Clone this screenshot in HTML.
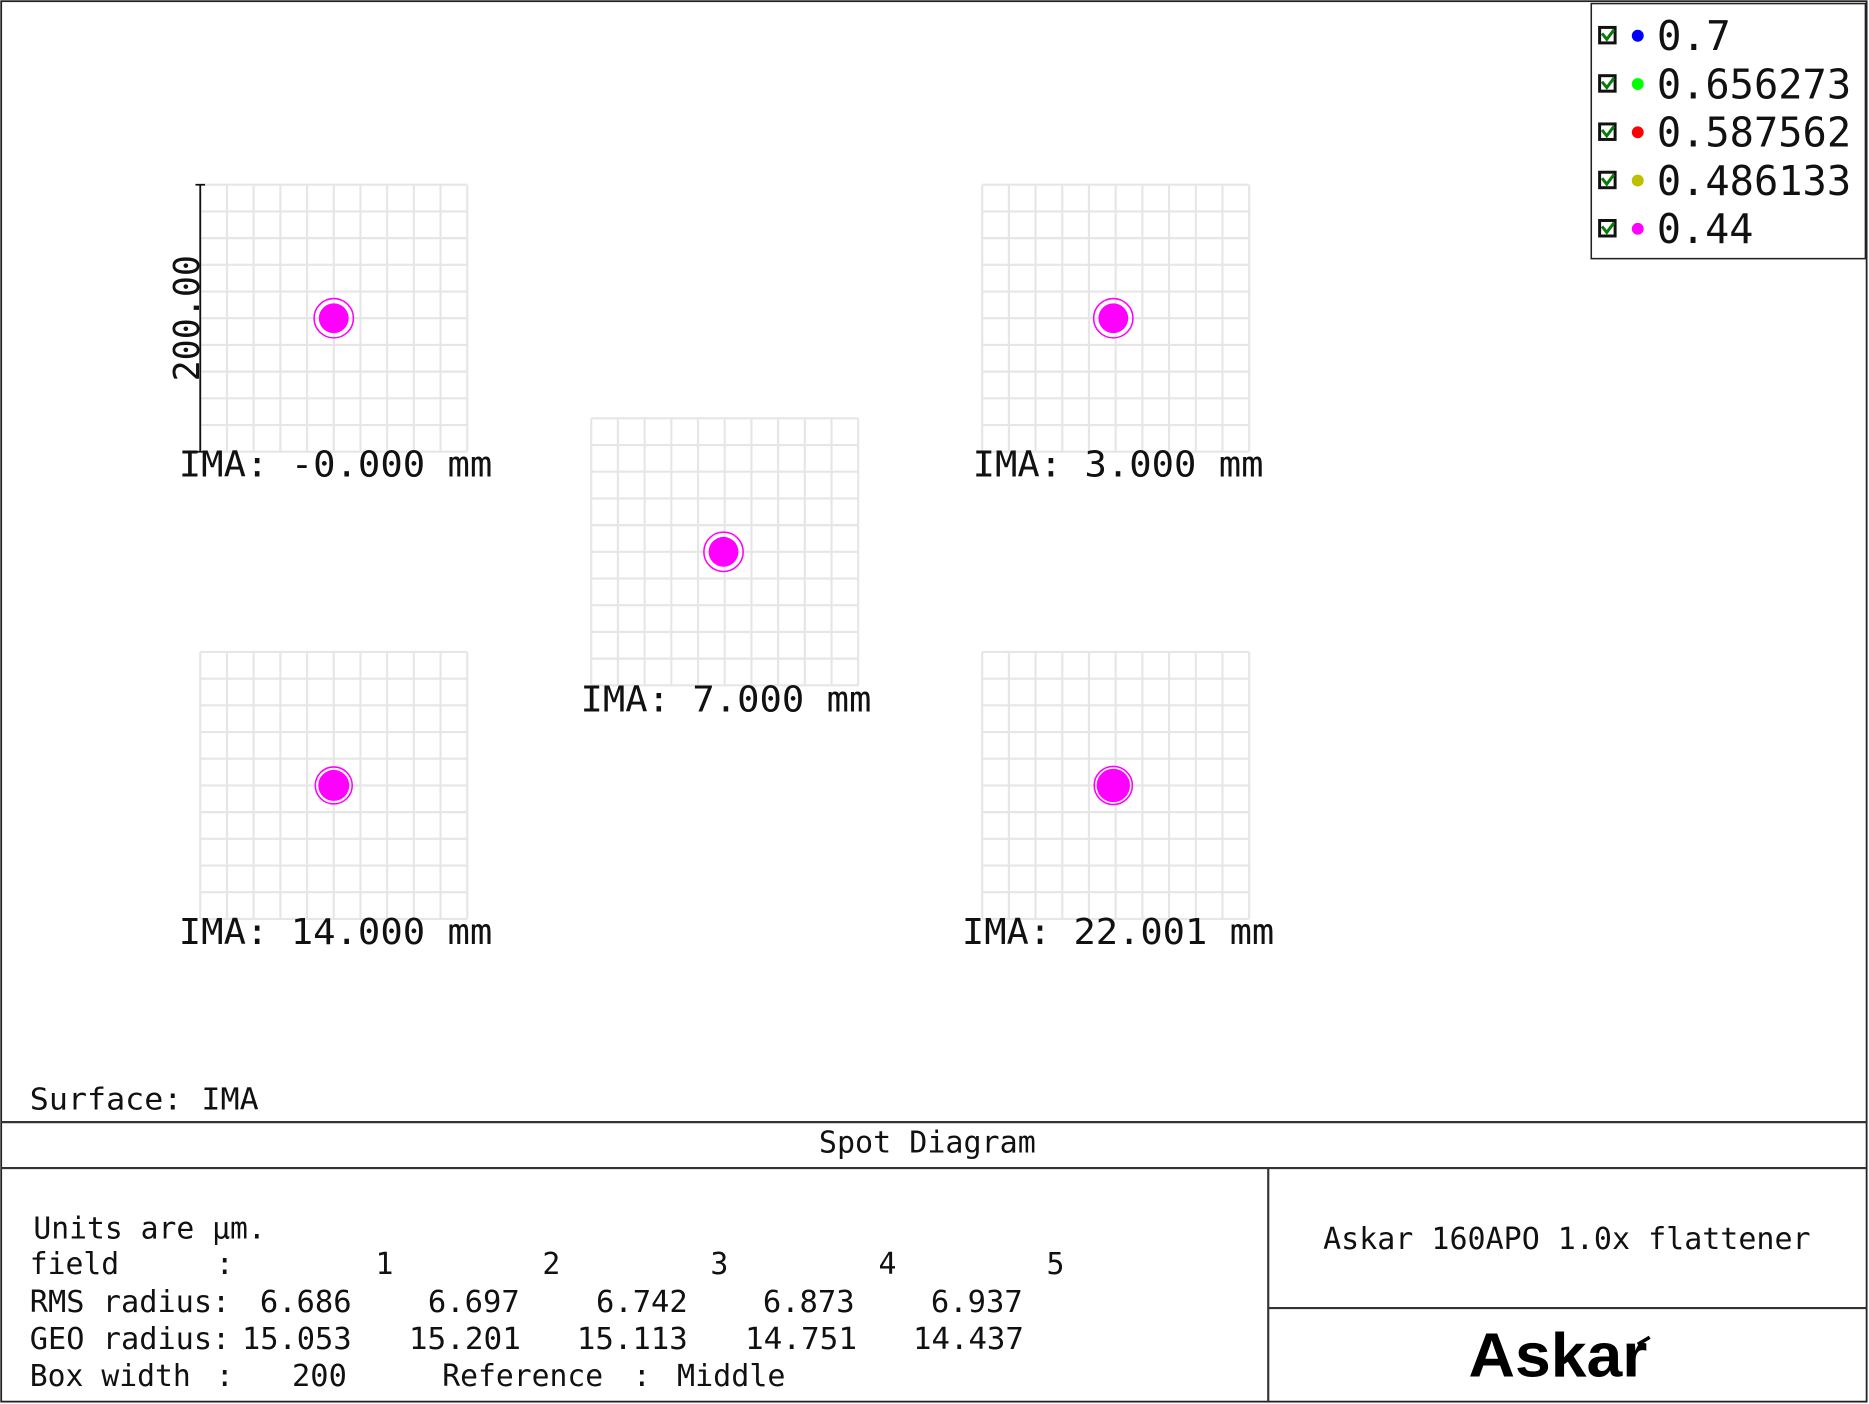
<!DOCTYPE html>
<html><head><meta charset="utf-8"><style>html,body{margin:0;padding:0;background:#fff}svg{display:block}</style></head>
<body>
<svg width="1869" height="1404" viewBox="0 0 1568 1178" preserveAspectRatio="none" xmlns="http://www.w3.org/2000/svg" font-family="'DejaVu Sans Mono','Liberation Mono',monospace">
<rect x="0" y="0" width="1568" height="1178" fill="#fff"/>
<rect x="1" y="1" width="1565" height="1175" fill="none" stroke="#222" stroke-width="1.5"/>
<g id="grids" fill="none" stroke="#e6e6e6" stroke-width="1.8">
<path d="M168 155h224M168 177.4h224M168 199.8h224M168 222.2h224M168 244.6h224M168 267h224M168 289.4h224M168 311.8h224M168 334.2h224M168 356.6h224M168 379h224M168 155v224M190.4 155v224M212.8 155v224M235.2 155v224M257.6 155v224M280 155v224M302.4 155v224M324.8 155v224M347.2 155v224M369.6 155v224M392 155v224"/>
<path transform="translate(656,0)" d="M168 155h224M168 177.4h224M168 199.8h224M168 222.2h224M168 244.6h224M168 267h224M168 289.4h224M168 311.8h224M168 334.2h224M168 356.6h224M168 379h224M168 155v224M190.4 155v224M212.8 155v224M235.2 155v224M257.6 155v224M280 155v224M302.4 155v224M324.8 155v224M347.2 155v224M369.6 155v224M392 155v224"/>
<path transform="translate(328,196)" d="M168 155h224M168 177.4h224M168 199.8h224M168 222.2h224M168 244.6h224M168 267h224M168 289.4h224M168 311.8h224M168 334.2h224M168 356.6h224M168 379h224M168 155v224M190.4 155v224M212.8 155v224M235.2 155v224M257.6 155v224M280 155v224M302.4 155v224M324.8 155v224M347.2 155v224M369.6 155v224M392 155v224"/>
<path transform="translate(0,392)" d="M168 155h224M168 177.4h224M168 199.8h224M168 222.2h224M168 244.6h224M168 267h224M168 289.4h224M168 311.8h224M168 334.2h224M168 356.6h224M168 379h224M168 155v224M190.4 155v224M212.8 155v224M235.2 155v224M257.6 155v224M280 155v224M302.4 155v224M324.8 155v224M347.2 155v224M369.6 155v224M392 155v224"/>
<path transform="translate(656,392)" d="M168 155h224M168 177.4h224M168 199.8h224M168 222.2h224M168 244.6h224M168 267h224M168 289.4h224M168 311.8h224M168 334.2h224M168 356.6h224M168 379h224M168 155v224M190.4 155v224M212.8 155v224M235.2 155v224M257.6 155v224M280 155v224M302.4 155v224M324.8 155v224M347.2 155v224M369.6 155v224M392 155v224"/>
</g>
<path d="M168 155V379M164 155h8M164 379h8" stroke="#111" stroke-width="1.5"/>
<text transform="translate(167,267) rotate(-90)" x="0" y="0" text-anchor="middle" font-size="30" textLength="106" lengthAdjust="spacingAndGlyphs" fill="#111">200.00</text>
<g fill="#ff00ff" stroke="#ff00ff">
<circle cx="280" cy="267" r="12.5" stroke="none"/><circle cx="280" cy="267" r="16.5" fill="none" stroke-width="1.3"/>
<circle cx="934" cy="267" r="12.5" stroke="none"/><circle cx="934" cy="267" r="16.5" fill="none" stroke-width="1.3"/>
<circle cx="607" cy="463" r="12.5" stroke="none"/><circle cx="607" cy="463" r="16.5" fill="none" stroke-width="1.3"/>
<circle cx="280" cy="659" r="13" stroke="none"/><circle cx="280" cy="659" r="15.5" fill="none" stroke-width="1.3"/>
<circle cx="934" cy="659" r="14" stroke="none"/><circle cx="934" cy="659" r="16" fill="none" stroke-width="1.3"/>
</g>
<g font-size="30" fill="#111">
<text x="150" y="400" textLength="263" lengthAdjust="spacingAndGlyphs">IMA: -0.000 mm</text>
<text x="816" y="400" textLength="244" lengthAdjust="spacingAndGlyphs">IMA: 3.000 mm</text>
<text x="487" y="597" textLength="244" lengthAdjust="spacingAndGlyphs">IMA: 7.000 mm</text>
<text x="150" y="792" textLength="263" lengthAdjust="spacingAndGlyphs">IMA: 14.000 mm</text>
<text x="807" y="792" textLength="262" lengthAdjust="spacingAndGlyphs">IMA: 22.001 mm</text>
</g>
<rect x="1335" y="3" width="230" height="214" fill="#fff" stroke="#222" stroke-width="1.3"/>
<g font-size="34" fill="#111">
<g>
<rect x="1342" y="23" width="13" height="13" fill="#fff" stroke="#111" stroke-width="2.5"/><path d="M1344 28l4 5l6-8" stroke="#0a7a0a" stroke-width="2.5" fill="none"/>
<circle cx="1374" cy="30" r="5" fill="#0000ff"/><text x="1390" y="42" textLength="62" lengthAdjust="spacingAndGlyphs">0.7</text></g>
<g transform="translate(0,40.5)">
<rect x="1342" y="23" width="13" height="13" fill="#fff" stroke="#111" stroke-width="2.5"/><path d="M1344 28l4 5l6-8" stroke="#0a7a0a" stroke-width="2.5" fill="none"/>
<circle cx="1374" cy="30" r="5" fill="#00ff00"/><text x="1390" y="42" textLength="163" lengthAdjust="spacingAndGlyphs">0.656273</text></g>
<g transform="translate(0,81)">
<rect x="1342" y="23" width="13" height="13" fill="#fff" stroke="#111" stroke-width="2.5"/><path d="M1344 28l4 5l6-8" stroke="#0a7a0a" stroke-width="2.5" fill="none"/>
<circle cx="1374" cy="30" r="5" fill="#ff0000"/><text x="1390" y="42" textLength="163" lengthAdjust="spacingAndGlyphs">0.587562</text></g>
<g transform="translate(0,121.5)">
<rect x="1342" y="23" width="13" height="13" fill="#fff" stroke="#111" stroke-width="2.5"/><path d="M1344 28l4 5l6-8" stroke="#0a7a0a" stroke-width="2.5" fill="none"/>
<circle cx="1374" cy="30" r="5" fill="#bfbf00"/><text x="1390" y="42" textLength="163" lengthAdjust="spacingAndGlyphs">0.486133</text></g>
<g transform="translate(0,162)">
<rect x="1342" y="23" width="13" height="13" fill="#fff" stroke="#111" stroke-width="2.5"/><path d="M1344 28l4 5l6-8" stroke="#0a7a0a" stroke-width="2.5" fill="none"/>
<circle cx="1374" cy="30" r="5" fill="#ff00ff"/><text x="1390" y="42" textLength="81" lengthAdjust="spacingAndGlyphs">0.44</text></g>
</g>
<path d="M1 941.5H1566M1 980H1566M1064 980V1176M1064 1097.5H1566" stroke="#333" stroke-width="1.8" fill="none"/>
<g font-size="25" fill="#111">
<text x="25" y="931" textLength="192" lengthAdjust="spacingAndGlyphs">Surface: IMA</text>
<text x="687" y="967" textLength="182" lengthAdjust="spacingAndGlyphs">Spot Diagram</text>
<text x="28" y="1039" textLength="195" lengthAdjust="spacingAndGlyphs">Units are µm.</text>
<text x="25" y="1069" textLength="75" lengthAdjust="spacingAndGlyphs">field</text>
<text x="181" y="1069">:</text>
<text x="315" y="1069">1</text><text x="455" y="1069">2</text><text x="596" y="1069">3</text><text x="737" y="1069">4</text><text x="878" y="1069">5</text>
<text x="25" y="1101" textLength="153" lengthAdjust="spacingAndGlyphs">RMS radius</text>
<text x="178" y="1101">:</text>
<text x="218" y="1101" textLength="77" lengthAdjust="spacingAndGlyphs">6.686</text>
<text x="359" y="1101" textLength="77" lengthAdjust="spacingAndGlyphs">6.697</text>
<text x="500" y="1101" textLength="77" lengthAdjust="spacingAndGlyphs">6.742</text>
<text x="640" y="1101" textLength="77" lengthAdjust="spacingAndGlyphs">6.873</text>
<text x="781" y="1101" textLength="77" lengthAdjust="spacingAndGlyphs">6.937</text>
<text x="25" y="1132" textLength="153" lengthAdjust="spacingAndGlyphs">GEO radius</text>
<text x="178" y="1132">:</text>
<text x="203" y="1132" textLength="92" lengthAdjust="spacingAndGlyphs">15.053</text>
<text x="343" y="1132" textLength="94" lengthAdjust="spacingAndGlyphs">15.201</text>
<text x="484" y="1132" textLength="93" lengthAdjust="spacingAndGlyphs">15.113</text>
<text x="625" y="1132" textLength="94" lengthAdjust="spacingAndGlyphs">14.751</text>
<text x="766" y="1132" textLength="93" lengthAdjust="spacingAndGlyphs">14.437</text>
<text x="25" y="1163" textLength="135" lengthAdjust="spacingAndGlyphs">Box width</text>
<text x="181" y="1163">:</text>
<text x="245" y="1163" textLength="46" lengthAdjust="spacingAndGlyphs">200</text>
<text x="371" y="1163" textLength="135" lengthAdjust="spacingAndGlyphs">Reference</text>
<text x="531" y="1163">:</text>
<text x="568" y="1163" textLength="91" lengthAdjust="spacingAndGlyphs">Middle</text>
<text x="1110" y="1048" textLength="409" lengthAdjust="spacingAndGlyphs">Askar 160APO 1.0x flattener</text>
</g>
<text x="1232" y="1155" font-family="'Liberation Sans',sans-serif" font-weight="bold" font-size="52" textLength="150" lengthAdjust="spacingAndGlyphs" fill="#000">Askar</text>
<path d="M1374 1128l10-6" stroke="#000" stroke-width="3"/>
</svg>
</body></html>
